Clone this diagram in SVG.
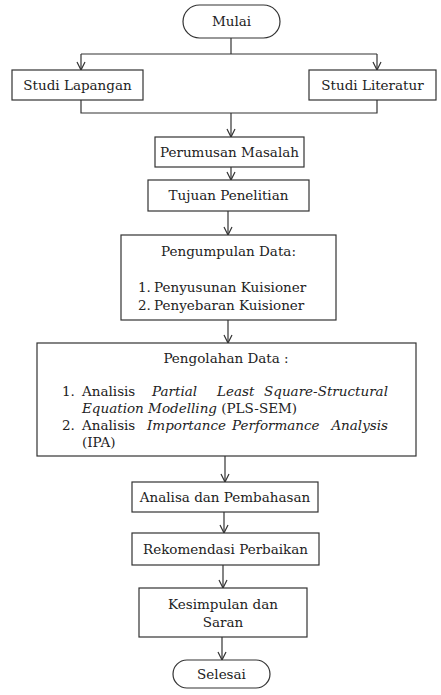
<svg xmlns="http://www.w3.org/2000/svg" width="441" height="695" viewBox="0 0 441 695">
<defs>
<marker id="arr" viewBox="0 0 10 10" refX="9" refY="5" markerWidth="10" markerHeight="10" markerUnits="userSpaceOnUse" orient="auto">
<path d="M1,1 L9,5 L1,9" fill="none" stroke="#333" stroke-width="1.2"/>
</marker>
<style>
.b{fill:#fff;stroke:#333;stroke-width:1.2}
.t{font-family:'DejaVu Serif',serif;font-size:13.5px;fill:#222}
.c{text-anchor:middle}
.i{font-style:italic}
.l{fill:none;stroke:#333;stroke-width:1.2}
</style>
</defs>
<rect width="441" height="695" fill="#fff"/>
<g id="connectors">
<path class="l" d="M231,38 V54"/>
<path class="l" d="M81,54 H377"/>
<path class="l" d="M81,54 V70" marker-end="url(#arr)"/>
<path class="l" d="M377,54 V70" marker-end="url(#arr)"/>
<path class="l" d="M81,100 V113 H377 V100"/>
<path class="l" d="M231,113 V137" marker-end="url(#arr)"/>
<path class="l" d="M231,167 V180" marker-end="url(#arr)"/>
<path class="l" d="M228,211 V235" marker-end="url(#arr)"/>
<path class="l" d="M228,320 V343" marker-end="url(#arr)"/>
<path class="l" d="M225,456 V482" marker-end="url(#arr)"/>
<path class="l" d="M224,512 V533" marker-end="url(#arr)"/>
<path class="l" d="M223,565 V588" marker-end="url(#arr)"/>
<path class="l" d="M222,637 V660" marker-end="url(#arr)"/>
</g>
<g id="mulai">
<rect class="b" x="183" y="5" width="97" height="33" rx="16.5"/>
<text class="t c" x="231.5" y="26">Mulai</text>
</g>
<g id="studi-lapangan">
<rect class="b" x="12" y="70" width="131" height="30"/>
<text class="t c" x="77.5" y="90">Studi Lapangan</text>
</g>
<g id="studi-literatur">
<rect class="b" x="309" y="70" width="127" height="30"/>
<text class="t c" x="372.5" y="90">Studi Literatur</text>
</g>
<g id="perumusan">
<rect class="b" x="155" y="137" width="149" height="30"/>
<text class="t c" x="229.5" y="157">Perumusan Masalah</text>
</g>
<g id="tujuan">
<rect class="b" x="148" y="180" width="161" height="31"/>
<text class="t c" x="228.5" y="200">Tujuan Penelitian</text>
</g>
<g id="pengumpulan">
<rect class="b" x="121" y="235" width="215" height="85"/>
<text class="t c" x="228.5" y="256">Pengumpulan Data:</text>
<text class="t" x="138" y="292">1.</text>
<text class="t" x="154" y="292">Penyusunan Kuisioner</text>
<text class="t" x="138" y="310">2.</text>
<text class="t" x="154" y="310">Penyebaran Kuisioner</text>
</g>
<g id="pengolahan">
<rect class="b" x="37" y="343" width="379" height="113"/>
<text class="t c" x="226" y="363">Pengolahan Data :</text>
<text class="t" x="62" y="396">1.</text>
<text class="t" x="82" y="396">Analisis</text>
<text class="t i" x="152" y="396">Partial</text>
<text class="t i" x="217" y="396">Least</text>
<text class="t i" x="388" y="396" text-anchor="end">Square-Structural</text>
<text class="t" x="82" y="413"><tspan class="i">Equation Modelling</tspan> (PLS-SEM)</text>
<text class="t" x="62" y="430">2.</text>
<text class="t" x="82" y="430">Analisis</text>
<text class="t i" x="147" y="430">Importance</text>
<text class="t i" x="232" y="430">Performance</text>
<text class="t i" x="388" y="430" text-anchor="end">Analysis</text>
<text class="t" x="82" y="447">(IPA)</text>
</g>
<g id="analisa">
<rect class="b" x="132" y="482" width="186" height="30"/>
<text class="t c" x="225" y="502">Analisa dan Pembahasan</text>
</g>
<g id="rekomendasi">
<rect class="b" x="132" y="533" width="187" height="32"/>
<text class="t c" x="225.5" y="554">Rekomendasi Perbaikan</text>
</g>
<g id="kesimpulan">
<rect class="b" x="139" y="588" width="168" height="49"/>
<text class="t c" x="223" y="609">Kesimpulan dan</text>
<text class="t c" x="223" y="627">Saran</text>
</g>
<g id="selesai">
<rect class="b" x="173" y="660" width="97" height="28" rx="14"/>
<text class="t c" x="221.5" y="679">Selesai</text>
</g>
</svg>
